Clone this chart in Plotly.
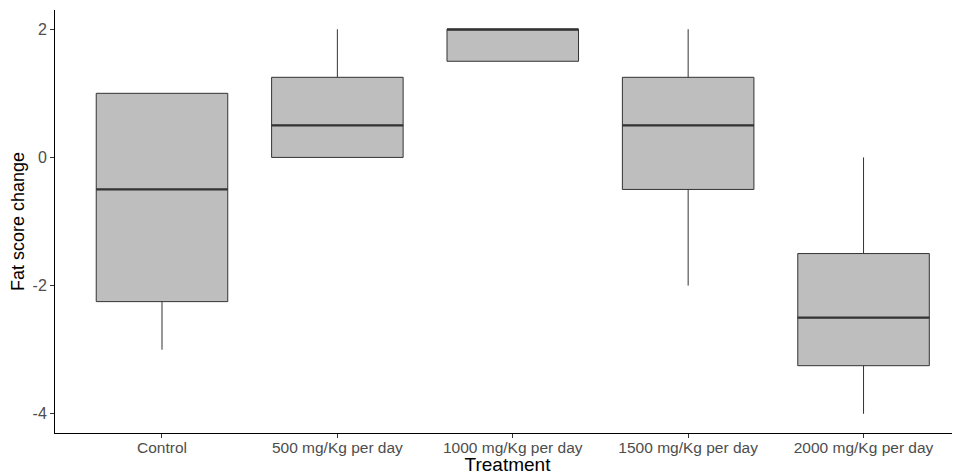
import plotly.graph_objects as go

categories = ["Control", "500 mg/Kg per day", "1000 mg/Kg per day",
              "1500 mg/Kg per day", "2000 mg/Kg per day"]
q1 = [-2.25, 0.0, 1.5, -0.5, -3.25]
median = [-0.5, 0.5, 2.0, 0.5, -2.5]
q3 = [1.0, 1.25, 2.0, 1.25, -1.5]
lower = [-3.0, 0.0, 1.5, -2.0, -4.0]
upper = [1.0, 2.0, 2.0, 2.0, 0.0]
y_ticks = [2, 0, -2, -4]
y_ticklabels = ["2", "0", "-2", "-4"]

xpos = list(range(1, len(categories) + 1))
box_w = 0.75

fig = go.Figure()
fig.add_trace(go.Box(
    x=xpos, q1=q1, median=median, q3=q3,
    lowerfence=lower, upperfence=upper,
    width=box_w, whiskerwidth=0,
    fillcolor="#BEBEBE", line=dict(color="#333333", width=1),
    boxpoints=False, hoverinfo="skip", showlegend=False,
))
# thicker median lines like ggplot
for xp, m in zip(xpos, median):
    fig.add_trace(go.Scatter(
        x=[xp - box_w / 2, xp + box_w / 2], y=[m, m], mode="lines",
        line=dict(color="#333333", width=2.2), hoverinfo="skip", showlegend=False,
    ))

# page body has an 8px default margin; size the figure to fill the 960x475 view
fig.update_layout(
    width=952, height=467,
    margin=dict(l=47, r=0, t=2, b=42),
    plot_bgcolor="white", paper_bgcolor="white",
    font=dict(family="Liberation Sans, Arial, sans-serif"),
)
fig.update_xaxes(
    range=[0.39, 5.55], tickvals=xpos, ticktext=categories,
    automargin=False,
    showgrid=False, zeroline=False,
    showline=True, linecolor="black", linewidth=1,
    ticks="outside", ticklen=4, tickcolor="#333333",
    ticklabelstandoff=-4,
    tickfont=dict(size=15.5, color="#4D4D4D"),
    title=dict(text="Treatment", font=dict(size=19, color="black"), standoff=4),
)
fig.update_yaxes(
    range=[-4.3, 2.3], tickvals=y_ticks, ticktext=y_ticklabels,
    automargin=False,
    showgrid=False, zeroline=False,
    showline=True, linecolor="black", linewidth=1,
    ticks="outside", ticklen=4, tickcolor="#333333",
    tickfont=dict(size=16, color="#4D4D4D"),
    title=dict(text="Fat score change", font=dict(size=18, color="black"), standoff=6),
)

fig.write_html("out.html")
